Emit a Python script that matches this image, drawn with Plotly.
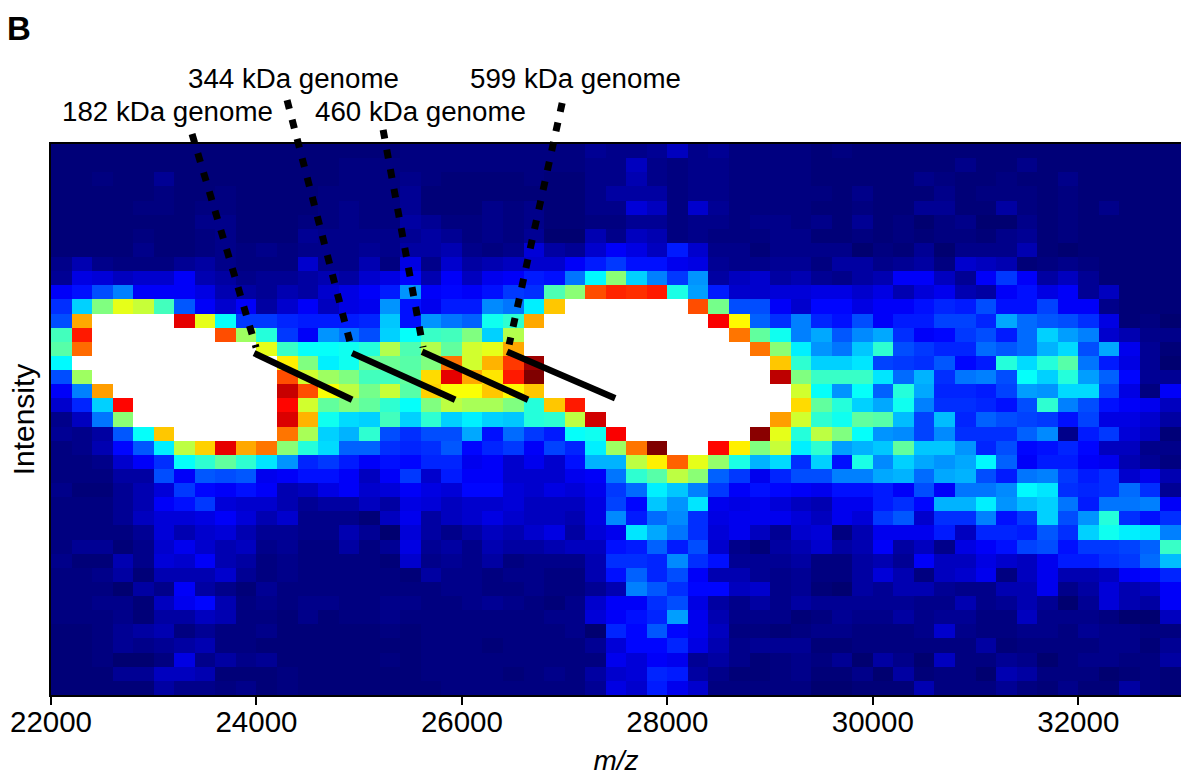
import plotly.graph_objects as go

W = 101  # saturated bins, drawn white

mz_bin_centers = [22100 + 200 * i for i in range(55)]
intensity_bins = list(range(39))
x_ticks = [22000, 24000, 26000, 28000, 30000, 32000]

left_bins = [
    [1,1,1,1,1,1,1,1,1,1,1,1,1,1,1,1,1,2],
    [1,1,1,1,1,1,1,1,1,1,1,1,1,1,2,2,2,2],
    [1,1,2,1,1,4,1,1,1,1,1,1,1,1,2,2,2,3],
    [1,1,1,1,1,2,1,1,2,1,1,1,1,2,2,2,2,4],
    [1,1,1,1,2,2,1,2,2,1,1,1,1,2,3,2,2,4],
    [1,1,1,1,1,1,1,3,3,1,1,1,2,2,3,2,2,5],
    [1,1,1,1,2,1,1,2,3,1,1,1,4,3,3,3,3,4],
    [1,1,1,1,3,1,1,2,3,2,3,2,3,3,3,4,3,5],
    [3,6,3,2,2,2,4,5,3,2,2,2,8,3,3,6,2,10],
    [4,10,9,7,8,8,12,6,5,3,4,4,5,6,5,8,10,13],
    [12,14,20,25,12,12,12,10,6,5,4,6,5,8,10,12,15,27],
    [17,33,50,60,57,44,21,12,8,12,5,8,12,7,10,11,27,14],
    [20,71,W,W,W,W,90,60,38,18,18,16,15,15,15,16,32,14],
    [44,85,W,W,W,W,W,W,80,53,41,18,12,27,24,20,33,38],
    [46,77,W,W,W,W,W,W,W,W,60,43,38,38,39,41,55,45],
    [37,W,W,W,W,W,W,W,W,W,W,64,50,36,39,48,48,46],
    [20,53,W,W,W,W,W,W,W,W,W,80,58,53,50,44,44,47],
    [12,25,72,W,W,W,W,W,W,W,W,93,80,62,56,49,57,46],
    [8,16,33,87,W,W,W,W,W,W,W,87,58,47,50,47,42,38],
    [3,7,24,51,W,W,W,W,W,W,W,91,70,39,34,33,44,33],
    [4,3,5,21,38,68,W,W,W,W,W,76,54,33,30,42,20,17],
    [2,3,6,13,21,36,56,67,90,71,76,51,41,34,22,22,17,16],
    [2,2,3,8,12,17,38,42,47,42,35,27,16,18,15,12,14,13],
    [2,2,2,5,5,20,12,21,20,21,11,12,14,14,12,7,12,18],
    [3,1,1,4,6,9,18,13,12,14,12,6,7,10,12,8,9,12],
    [2,2,2,4,6,12,14,18,9,8,8,6,4,5,5,7,5,10],
    [2,2,2,4,7,9,9,10,12,9,6,8,3,3,3,1,7,11],
    [2,2,2,2,4,9,6,8,9,6,4,4,3,3,6,4,0,9],
    [2,4,4,1,3,8,11,8,6,7,3,4,2,2,5,2,4,10],
    [3,1,1,6,3,9,8,12,6,5,2,3,2,2,2,2,1,8],
    [2,2,3,5,1,6,6,6,8,4,2,3,2,2,2,2,2,1],
    [2,2,2,0,5,3,12,5,3,1,4,2,2,2,2,2,2,2],
    [2,2,3,3,1,7,11,13,6,2,3,2,3,3,2,2,3,3],
    [2,2,2,3,1,5,5,7,6,2,2,1,3,1,2,2,3,2],
    [1,1,2,4,5,6,2,4,2,2,3,1,1,1,1,1,2,1],
    [1,1,2,4,3,4,5,6,2,2,1,1,1,1,1,1,1,1],
    [1,1,2,0,0,2,10,3,5,3,4,1,1,1,1,1,2,1],
    [1,1,1,4,4,7,7,6,1,1,1,2,1,1,1,1,1,1],
    [1,1,1,1,1,5,3,3,2,3,1,2,1,1,1,1,1,1],
]

middle_bins = [
    [2,2,2,2,2,2,2,2,4,3,3,4,7,3,4,2,2,2,2],
    [2,2,2,2,2,2,2,2,3,3,7,3,2,3,3,2,2,2,2],
    [2,1,1,1,1,2,1,1,3,3,6,3,2,3,3,2,2,2,2],
    [1,1,1,1,1,1,1,1,3,5,5,5,2,3,3,2,2,2,2],
    [1,1,1,3,2,3,1,1,3,3,9,7,2,8,4,2,2,2,2],
    [4,2,2,3,2,3,1,1,2,2,4,4,2,3,3,2,3,3,2],
    [5,4,2,3,2,4,0,0,6,3,7,6,2,3,2,2,2,3,3],
    [5,6,3,2,3,9,5,4,8,12,10,7,15,8,3,3,1,3,3],
    [3,8,5,6,7,8,8,12,15,18,14,14,11,10,4,3,3,4,4],
    [6,12,7,11,12,15,14,24,37,51,33,25,18,27,5,7,8,5,6],
    [12,13,12,14,18,17,45,51,80,84,83,85,40,28,15,8,8,9,9],
    [11,15,15,26,24,36,68,W,W,W,W,W,W,80,49,20,20,12,8],
    [27,24,22,39,42,71,W,W,W,W,W,W,W,W,88,63,22,17,25],
    [43,44,50,33,55,W,W,W,W,W,W,W,W,W,W,76,47,39,25],
    [55,47,58,60,71,W,W,W,W,W,W,W,W,W,W,W,76,51,36],
    [50,76,58,70,82,97,W,W,W,W,W,W,W,W,W,W,W,68,42],
    [66,90,71,65,85,100,W,W,W,W,W,W,W,W,W,W,W,94,50],
    [67,62,62,68,63,68,W,W,W,W,W,W,W,W,W,W,W,W,58],
    [50,56,54,54,50,41,68,85,W,W,W,W,W,W,W,W,W,W,66],
    [42,33,36,33,32,41,42,56,92,W,W,W,W,W,W,W,W,72,58],
    [20,20,29,14,23,18,15,38,39,88,W,W,W,W,W,W,99,60,41],
    [17,21,13,16,18,12,19,16,36,53,76,100,W,W,87,64,50,57,36],
    [16,16,11,12,8,11,8,14,30,30,56,64,78,60,52,40,30,34,17],
    [8,15,12,12,8,8,8,11,12,24,42,46,56,51,22,18,11,16,20],
    [10,9,13,13,9,8,10,9,11,18,23,36,32,25,18,12,14,13,12],
    [9,7,8,8,9,7,7,7,10,19,13,32,27,35,11,10,11,9,7],
    [5,7,8,10,8,7,7,6,10,26,15,23,26,17,10,11,11,11,9],
    [5,3,5,7,6,8,10,5,9,11,35,29,24,17,9,11,7,4,8],
    [4,5,3,6,5,5,6,7,7,14,15,22,15,20,8,3,1,5,6],
    [3,4,3,5,2,3,3,3,6,17,17,16,26,17,14,4,4,4,5],
    [5,3,3,2,3,3,2,2,6,14,22,16,20,12,6,6,4,3,4],
    [2,3,3,2,2,3,2,2,4,6,25,21,17,13,13,7,8,3,4],
    [2,2,3,4,3,2,1,3,8,12,12,17,20,10,5,3,5,3,5],
    [2,2,2,2,2,2,3,3,9,12,14,16,28,11,6,3,3,3,1],
    [2,2,2,2,2,2,2,3,0,16,13,21,13,11,7,2,2,1,2],
    [2,2,2,1,2,2,2,2,4,9,13,13,16,10,6,3,4,4,4],
    [2,2,2,2,2,2,2,2,2,11,9,12,11,4,5,3,1,2,3],
    [2,2,2,2,1,2,3,2,5,8,9,16,15,5,3,1,1,2,3],
    [1,2,2,2,2,2,2,2,4,10,8,15,11,8,2,2,2,2,2],
]

right_bins = [
    [1,2,1,1,1,1,1,1,1,1,1,1,1,1,1,1,1,1],
    [1,1,1,1,1,1,1,3,1,1,3,1,1,1,1,1,1,1],
    [1,1,1,1,1,3,2,1,1,2,1,1,3,1,1,1,1,1],
    [2,1,3,1,1,1,3,1,2,2,2,1,2,1,1,1,1,1],
    [1,1,2,1,1,4,4,1,1,5,2,1,2,1,3,1,1,1],
    [3,1,4,1,2,0,2,3,0,0,3,1,2,1,1,1,1,1],
    [1,1,2,1,2,1,2,2,1,3,4,1,2,1,1,1,1,1],
    [3,3,0,2,1,4,0,3,3,3,6,1,0,1,1,1,1,1],
    [2,5,5,3,4,5,2,8,7,6,1,2,3,2,1,1,1,1],
    [4,3,5,6,12,12,7,4,12,18,12,5,7,4,1,1,1,1],
    [10,10,8,10,6,9,11,6,5,12,14,10,12,4,7,1,1,1],
    [13,13,10,12,12,14,16,15,20,14,14,19,12,12,3,1,1,1],
    [16,14,20,12,15,15,19,19,16,29,23,21,20,17,10,1,2,0],
    [29,21,26,29,17,12,13,18,20,15,23,33,28,25,8,6,3,3],
    [27,24,32,42,20,18,16,16,23,21,23,30,34,20,29,11,4,1],
    [33,33,35,19,18,17,21,13,15,41,34,41,46,24,15,10,4,0],
    [43,43,43,35,23,30,17,24,25,20,38,33,41,28,22,13,4,4],
    [38,27,38,22,41,29,16,16,15,19,28,27,34,34,19,10,2,12],
    [47,41,33,29,39,25,17,17,16,14,20,42,25,20,14,12,11,7],
    [42,39,47,46,31,19,31,16,22,20,19,18,14,19,10,10,8,5],
    [56,50,38,27,26,19,26,17,17,17,22,26,3,15,18,9,7,1],
    [42,28,30,32,47,32,32,27,16,20,13,14,16,13,7,7,3,3],
    [33,14,40,26,33,29,27,29,37,22,12,15,15,12,11,6,4,2],
    [20,25,25,29,30,23,29,30,20,15,24,25,18,15,17,8,11,6],
    [11,14,14,15,12,20,12,24,24,26,37,35,17,16,17,23,17,4],
    [6,11,11,15,17,13,30,30,36,27,31,33,24,15,24,24,25,12],
    [7,11,9,18,21,8,17,17,25,14,18,33,20,27,41,17,14,17],
    [9,2,6,11,11,11,15,7,16,16,15,21,17,33,39,36,35,25],
    [8,5,6,12,5,7,3,10,12,14,19,20,14,18,18,19,22,43],
    [2,2,5,6,4,12,7,7,10,8,7,11,15,15,17,18,23,31],
    [2,2,5,9,6,2,7,8,11,2,7,11,6,6,7,12,13,16],
    [1,0,5,4,6,6,4,3,3,6,6,11,3,5,9,6,7,12],
    [4,4,4,4,4,3,3,6,3,4,6,4,0,4,9,6,5,12],
    [2,4,3,3,5,3,4,4,2,2,7,3,3,3,2,0,0,7],
    [3,3,2,2,2,3,8,3,2,2,3,3,2,4,3,3,2,2],
    [1,1,2,2,2,2,2,2,5,1,2,2,2,2,3,3,1,4],
    [2,4,0,5,3,0,7,2,2,4,3,0,2,3,3,2,2,5],
    [1,1,3,0,5,1,2,2,0,6,5,2,2,2,0,1,2,1],
    [0,0,1,1,1,6,2,2,2,4,2,1,3,1,1,5,2,1],
]

genome_labels = ["182 kDa genome", "344 kDa genome", "460 kDa genome", "599 kDa genome"]

# charge-state series (solid) in m/z and intensity-bin units
series_x = [[23977, 24931], [24931, 25934], [25612, 26644], [26440, 27492]]
series_y = [[14.3, 17.6], [14.3, 17.6], [14.2, 17.6], [14.2, 17.5]]
# leaders from label to series (dotted)
leader_x = [[23373, 23996], [24298, 24931], [25233, 25622], [26976, 26460]]
leader_y = [[-1.2, 13.9], [-3.6, 14.1], [-1.5, 13.9], [-3.4, 13.7]]

z = [a + b + c for a, b, c in zip(left_bins, middle_bins, right_bins)]
for i, row in enumerate(z):
    if len(row) != 55:
        raise ValueError(f"row {i} has {len(row)} cells")

stops = [(0, "rgb(0,0,112)"), (2, "rgb(0,0,128)"), (4, "rgb(0,0,148)"), (8, "rgb(0,0,205)"),
         (12.5, "rgb(0,0,255)"), (37.5, "rgb(0,255,255)"),
         (62.5, "rgb(255,255,0)"), (87.5, "rgb(255,0,0)"), (100, "rgb(128,0,0)"),
         (100.5, "rgb(255,255,255)"), (101, "rgb(255,255,255)")]
colorscale = [[v / 101, c] for v, c in stops]

X_RANGE = [22000, 33000]
Y_RANGE = [38.5, -0.5]


def paper_x(v):
    return (v - X_RANGE[0]) / (X_RANGE[1] - X_RANGE[0])


def paper_y(v):
    return (v - Y_RANGE[0]) / (Y_RANGE[1] - Y_RANGE[0])


fig = go.Figure()
fig.add_trace(go.Heatmap(x=mz_bin_centers, y=intensity_bins, z=z, zmin=0, zmax=101,
                         colorscale=colorscale, showscale=False, hoverinfo="skip"))

shapes = []
for xs, ys in zip(leader_x, leader_y):
    shapes.append(dict(type="line", xref="paper", yref="paper", layer="above",
                       x0=paper_x(xs[0]), y0=paper_y(ys[0]), x1=paper_x(xs[1]), y1=paper_y(ys[1]),
                       line=dict(color="black", width=7, dash="9px,11px")))
for xs, ys in zip(series_x, series_y):
    shapes.append(dict(type="line", xref="paper", yref="paper", layer="above",
                       x0=paper_x(xs[0]), y0=paper_y(ys[0]), x1=paper_x(xs[1]), y1=paper_y(ys[1]),
                       line=dict(color="black", width=6.5)))

FONT = "Liberation Sans, Arial, sans-serif"
label_pos = [(60, 112), (186, 78), (313, 112), (468, 78)]
W_PX, H_PX = 1181, 776
annotations = [dict(text=t, xref="paper", yref="paper",
                    x=(px - 51) / 1130, y=(695 - py) / 551,
                    xanchor="left", yanchor="middle", showarrow=False,
                    font=dict(family=FONT, size=27.7, color="black"))
               for t, (px, py) in zip(genome_labels, label_pos)]
annotations.append(dict(text="<b>B</b>", xref="paper", yref="paper",
                        x=(5 - 51) / 1130, y=(695 - 28) / 551,
                        xanchor="left", yanchor="middle", showarrow=False,
                        font=dict(family=FONT, size=33, color="black")))

fig.update_layout(
    width=W_PX, height=H_PX, margin=dict(l=51, r=0, t=144, b=81),
    paper_bgcolor="white", plot_bgcolor="white", showlegend=False,
    annotations=annotations, shapes=shapes,
    font=dict(family=FONT, color="black"),
    xaxis=dict(range=X_RANGE, tickvals=x_ticks, tickformat="d", ticks="outside", ticklen=8, tickwidth=2,
               tickcolor="black", showline=True, linecolor="black", linewidth=2, mirror=True,
               showgrid=False, zeroline=False, tickfont=dict(size=29.5, family=FONT),
               ticklabelstandoff=-8,
               title=dict(text="<i>m/z</i>", font=dict(size=28, family=FONT), standoff=17)),
    yaxis=dict(range=Y_RANGE, showticklabels=False, ticks="", showline=True,
               linecolor="black", linewidth=2, showgrid=False, zeroline=False,
               title=dict(text="Intensity", font=dict(size=30, family=FONT), standoff=6)),
)

fig.write_html("out.html", config={"displayModeBar": False},
               post_script="document.body.style.margin='0';")
